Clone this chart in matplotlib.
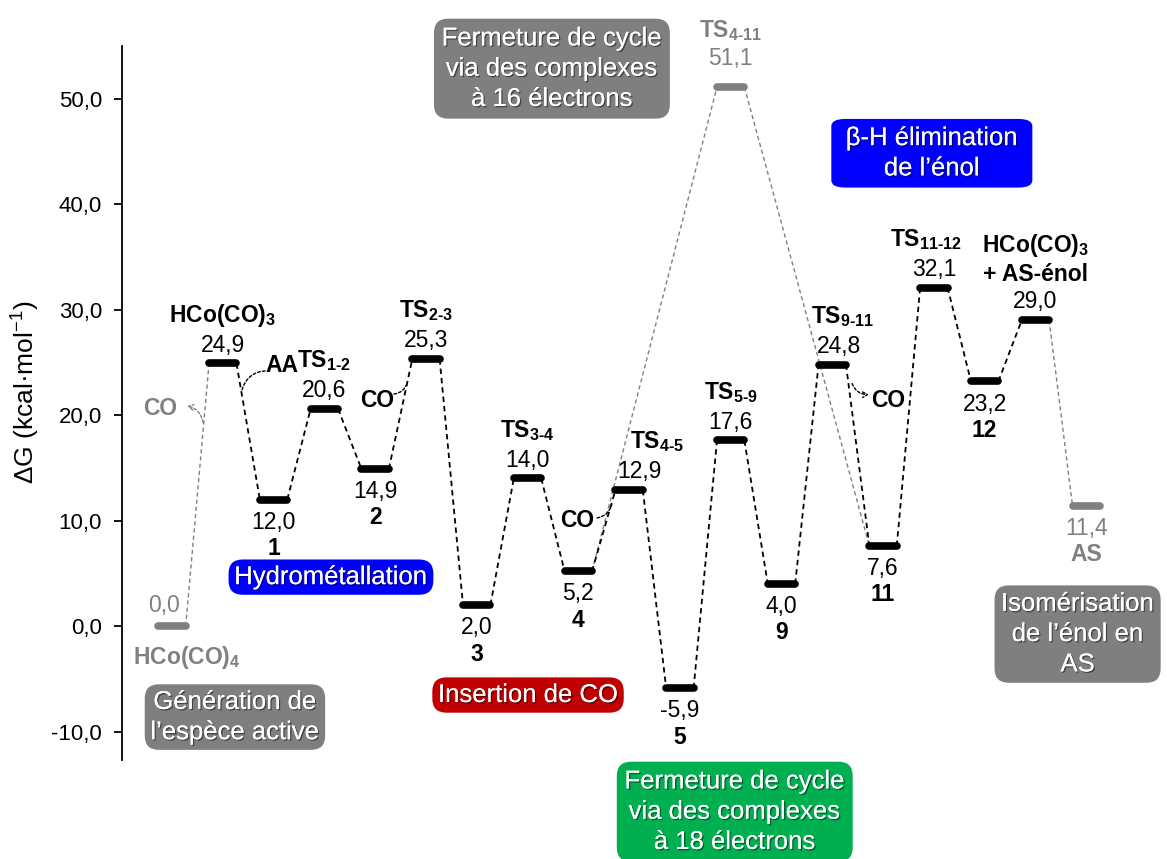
import matplotlib
matplotlib.use("Agg")
import matplotlib.pyplot as plt
import matplotlib.patheffects as pe
from matplotlib.ticker import FuncFormatter

plt.rcParams["font.family"] = ["Liberation Sans", "DejaVu Sans"]
plt.rcParams["mathtext.fontset"] = "custom"
plt.rcParams["mathtext.rm"] = "Liberation Sans"
plt.rcParams["mathtext.bf"] = "Liberation Sans:bold"
plt.rcParams["mathtext.it"] = "Liberation Sans:italic"

# main pathway, one slot per species
names = ["HCo(CO)4", "HCo(CO)3", "1", "TS1-2", "2", "TS2-3", "3", "TS3-4", "4",
         "TS4-5", "5", "TS5-9", "9", "TS9-11", "11", "TS11-12", "12",
         "HCo(CO)3 + AS-énol", "AS"]
energies = [0.0, 24.9, 12.0, 20.6, 14.9, 25.3, 2.0, 14.0, 5.2,
            12.9, -5.9, 17.6, 4.0, 24.8, 7.6, 32.1, 23.2, 29.0, 11.4]
gray_species = ["HCo(CO)4", "AS"]
above = ["HCo(CO)3", "TS1-2", "TS2-3", "TS3-4", "TS4-5", "TS5-9", "TS9-11",
         "TS11-12", "HCo(CO)3 + AS-énol"]

# 16-electron route
alt_name = "TS4-11"
alt_energy = 51.1
alt_from, alt_to = "4", "11"

yticks = [-10, 0, 10, 20, 30, 40, 50]

pretty = {
    "HCo(CO)4": r"$\mathbf{HCo(CO)_4}$",
    "HCo(CO)3": r"$\mathbf{HCo(CO)_3}$",
    "HCo(CO)3 + AS-énol": r"$\mathbf{HCo(CO)_3}$" + "\n+ AS-énol",
}


def fmt_name(n):
    if n in pretty:
        return pretty[n]
    if n.startswith("TS"):
        return r"$\mathbf{TS_{%s}}$" % n[2:].replace("-", "‐")
    return n


def fmt_val(v):
    return f"{v:.1f}".replace(".", ",")


GRAY = "#808080"
hw = 0.27
VAL_FS = 16.5
NAME_FS = 16.5

fig = plt.figure(figsize=(11.67, 8.59), dpi=100)
ax = fig.add_axes([122 / 1167, 99 / 859, 1045 / 1167, 714 / 859])
ax.set_xlim(-0.984, 19.59)
ax.set_ylim(-12.7, 55.0)

for s in ["top", "right", "bottom"]:
    ax.spines[s].set_visible(False)
ax.spines["left"].set_linewidth(1.3)
ax.set_xticks([])
ax.set_yticks(yticks)
ax.yaxis.set_major_formatter(FuncFormatter(lambda v, p: fmt_val(v)))
ax.tick_params(axis="y", labelsize=16, length=5.5, width=1.3, pad=9)
ax.set_ylabel(r"ΔG (kcal·mol$^{\mathdefault{-1}}$)", fontsize=19)
ax.yaxis.set_label_coords(-0.077, 0.515)

xs = list(range(len(names)))
pos = dict(zip(names, xs))
en = dict(zip(names, energies))

# connectors
for i in range(len(names) - 1):
    gray = i == 0 or i == len(names) - 2
    ax.plot([xs[i] + hw, xs[i + 1] - hw], [energies[i], energies[i + 1]],
            ls=(0, (3, 2.2)), lw=1.0 if gray else 1.3,
            color=GRAY if gray else "black", zorder=2)
x_alt = pos["TS5-9"]
ax.plot([pos[alt_from] + hw, x_alt - hw], [en[alt_from], alt_energy],
        ls=(0, (3, 2.2)), lw=1.0, color=GRAY, zorder=1)
ax.plot([x_alt + hw, pos[alt_to] - hw], [alt_energy, en[alt_to]],
        ls=(0, (3, 2.2)), lw=1.0, color=GRAY, zorder=1)

name_dx = {"TS4-5": 0.55, "TS9-11": 0.2, "TS11-12": -0.15}
val_dx = {"TS4-5": 0.2, "TS9-11": 0.13}


def label(x, e, s, dy, color, fs, bold):
    ax.annotate(s, (x, e), xytext=(0, dy), textcoords="offset points",
                ha="center", va="baseline", fontsize=fs, color=color,
                fontweight="bold" if bold else "normal")


def level(x, e, n, color, up, v_up=8.5, n_up=30):
    ax.plot([x - hw, x + hw], [e, e], lw=5.5, color=color,
            solid_capstyle="round", zorder=3)
    if up:
        label(x + val_dx.get(n, 0), e, fmt_val(e), v_up, color, VAL_FS, False)
        lines = fmt_name(n).split("\n")
        base = n_up if len(lines) == 1 else 28
        for k, ln in enumerate(reversed(lines)):
            label(x + name_dx.get(n, 0), e, ln, base + 21 * k, color,
                  NAME_FS, True)
    else:
        label(x, e, fmt_val(e), -21, color, VAL_FS, False)
        label(x, e, fmt_name(n), -40, color, NAME_FS, True)


for x, e, n in zip(xs, energies, names):
    c = GRAY if n in gray_species else "black"
    if n == "HCo(CO)4":
        ax.plot([x - hw, x + hw], [e, e], lw=5.5, color=c,
                solid_capstyle="round", zorder=3)
        label(x - 0.15, e, fmt_val(e), 10, c, VAL_FS, False)
        label(x + 0.3, e, fmt_name(n), -27, c, NAME_FS, True)
        continue
    level(x, e, n, c, n in above)
level(x_alt, alt_energy, alt_name, GRAY, True, v_up=16, n_up=36)


# small CO / AA arrows
def side(txt, xy_text, start, end, color, head, rad):
    ax.text(*xy_text, txt, ha="center", va="center", fontsize=NAME_FS,
            fontweight="bold", color=color)
    ax.annotate("", xy=end, xytext=start,
                arrowprops=dict(arrowstyle="->,head_length=0.35,head_width=0.2"
                                if head else "-",
                                ls=(0, (2, 1.5)), lw=1.0, color=color,
                                connectionstyle=f"arc3,rad={rad}",
                                shrinkA=0, shrinkB=0))


side("CO", (-0.24, 20.66), (0.61, 19.3), (0.30, 20.85), GRAY, True, 0.35)
side("AA", (2.17, 24.7), (1.38, 22.4), (1.85, 24.2), "black", False, -0.35)
side("CO", (4.04, 21.4), (4.37, 22.0), (4.63, 23.0), "black", False, 0.3)
side("CO", (7.97, 10.05), (8.37, 10.25), (8.66, 11.5), "black", False, 0.3)
side("CO", (14.1, 21.35), (13.39, 23.0), (13.72, 21.95), "black", True, 0.35)

# phase boxes: text, centre x, centre y, colour, pad, aspect
shadow = [pe.withSimplePatchShadow(offset=(1, -1), shadow_rgbFace="black",
                                   alpha=0.45), pe.Normal()]
boxes = [
    ("Génération de\nl’espèce active", 1.24, -8.63, "#7f7f7f", 0.22, 1.0),
    ("Hydrométallation", 3.13, 4.64, "#0000ff", 0.22, 1.0),
    ("Insertion de CO", 7.01, -6.54, "#c00000", 0.22, 1.0),
    ("Fermeture de cycle\nvia des complexes\nà 18 électrons", 11.08, -17.6,
     "#00b050", 0.3, 1.0),
    ("Fermeture de cycle\nvia des complexes\nà 16 électrons", 7.48, 52.85,
     "#7f7f7f", 0.3, 1.0),
    ("β-H élimination\nde l’énol", 14.96, 44.83, "#0000ff", 0.56, 0.5),
    ("Isomérisation\nde l’énol en\nAS", 17.83, -0.76, "#7f7f7f", 0.25, 1.0),
]
for txt, bx, by, col, pad, asp in boxes:
    t = ax.text(bx, by, txt, ha="center", va="center", fontsize=18.5,
                color="white", linespacing=1.33, clip_on=False,
                bbox=dict(boxstyle=f"round,pad={pad},rounding_size=0.55",
                          mutation_aspect=asp, fc=col, ec="none"))
    t.set_path_effects(shadow)

fig.savefig("out.png", dpi=100)
